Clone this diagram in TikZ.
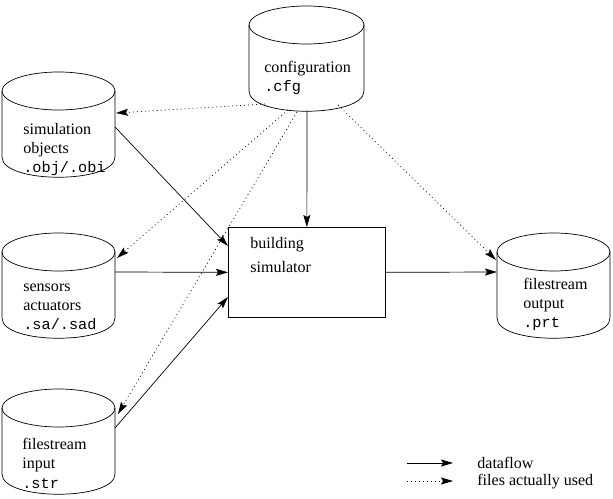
\documentclass[tikz,border=0pt]{standalone}
\usepackage{fontspec}
\setmainfont{Liberation Serif}
\setmonofont{Liberation Mono}
\usetikzlibrary{arrows.meta}

% data file drum: left x, y of top rim, right x
\newcommand{\drum}[3]{
    \draw ({(#1+#3)/2},#2) ellipse [x radius={(#3-#1)/2}, y radius=19];
    \draw (#1,#2) -- (#1,#2+66) .. controls (#1,#2+93) and (#3,#2+93) .. (#3,#2+66) -- (#3,#2);
}
% file extension
\newcommand{\fext}[1]{{\fontsize{13}{16.5}\selectfont\texttt{#1}}}

\tikzset{
    flow/.style={-{Stealth[length=3.6mm, width=2.1mm, inset=0.6mm]}},
    used/.style={flow, dash pattern=on 0.8pt off 2.6pt},
    lbl/.style={anchor=base west, align=left, inner sep=0pt, font=\fontsize{13.7}{16.5}\selectfont},
}

\begin{document}
\begin{tikzpicture}[x=0.3mm, y=-0.3mm, line width=0.6pt]
        \useasboundingbox (0,0) rectangle (613,499);

        % Data files.
        \drum{249}{25}{364}
        \drum{2}{91}{115}
        \drum{2}{252}{115}
        \drum{2}{408}{115}
        \drum{497}{252}{610}

        % (base of each label is its last line)
        \node[lbl] (cfg) at (264,92) {configuration\\\fext{.cfg}};
        \node[lbl] (obj) at (23,173) {simulation\\objects\\\fext{.obj/.obi}};
        \node[lbl] (sens) at (23,330) {sensors\\actuators\\\fext{.sa/.sad}};
        \node[lbl] (inp) at (22,488) {filestream\\input\\\fext{.str}};
        \node[lbl] (outp) at (523,328) {filestream\\output\\\fext{.prt}};

        % Simulator.
        \node[draw, anchor=north west, inner sep=0pt, minimum width=47.1mm, minimum height=27mm] (sim) at (228,227) {};
        \node[lbl] (simtxt) at (250,273) {building\\[1.5mm]simulator};

        % Connector ends.
        \coordinate (cfg-s) at (307,111);
        \coordinate (cfg-d1) at (265,104);
        \coordinate (cfg-d2) at (288,110);
        \coordinate (cfg-d3) at (297,112);
        \coordinate (cfg-d4) at (338,105);
        \coordinate (obj-d) at (116,113);
        \coordinate (sens-d) at (117,258);
        \coordinate (inp-d) at (118,414);
        \coordinate (outp-d) at (496,260);
        \coordinate (obj-e) at (115,127);
        \coordinate (sens-e) at (115,272);
        \coordinate (inp-e) at (115,428);
        \coordinate (outp-w) at (497,272);
        \coordinate (sim-w1) at (228,246);
        \coordinate (sim-w3) at (228,297);

        % Dataflow.
        \draw[flow] (cfg-s) -- (sim.north);
        \draw[flow] (obj-e) -- (sim-w1);
        \draw[flow] (sens-e) -- (sim.west);
        \draw[flow] (inp-e) -- (sim-w3);
        \draw[flow] (sim.east) -- (outp-w);

        % Files actually used.
        \draw[used] (cfg-d1) -- (obj-d);
        \draw[used] (cfg-d2) -- (sens-d);
        \draw[used] (cfg-d3) -- (inp-d);
        \draw[used] (cfg-d4) -- (outp-d);

        % Legend.
        \coordinate (leg1a) at (407,463);
        \coordinate (leg1b) at (453,463);
        \coordinate (leg2a) at (407,481);
        \coordinate (leg2b) at (453,481);
        \draw[flow] (leg1a) -- (leg1b);
        \draw[used] (leg2a) -- (leg2b);
        \node[lbl] (leg1) at (477,468) {dataflow};
        \node[lbl] (leg2) at (477,485) {files actually used};
\end{tikzpicture}
\end{document}
